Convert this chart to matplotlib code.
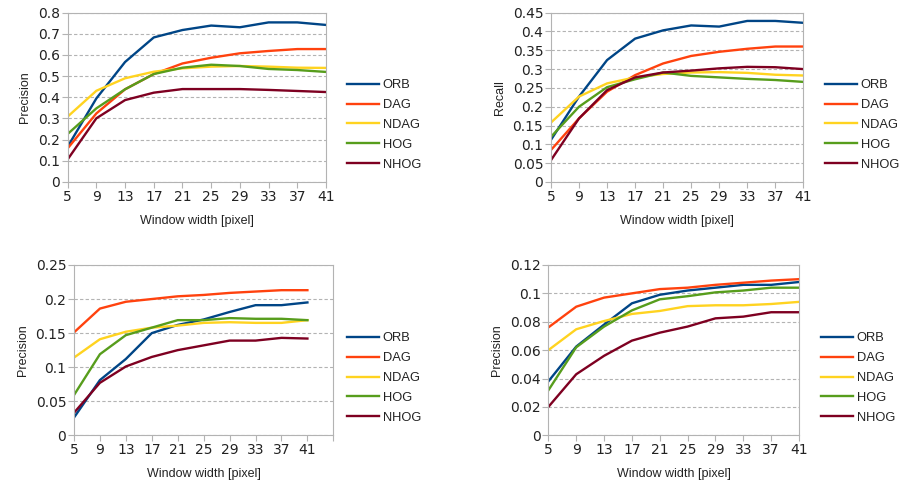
import matplotlib
matplotlib.use("Agg")
import matplotlib.pyplot as plt

windows = [5, 9, 13, 17, 21, 25, 29, 33, 37, 41]
methods = ["ORB", "DAG", "NDAG", "HOG", "NHOG"]
colors = ["#004586", "#ff420e", "#ffd320", "#579d1c", "#7e0021"]

p1_orb = [0.167, 0.395, 0.567, 0.683, 0.718, 0.739, 0.731, 0.754, 0.754, 0.742]
p1_dag = [0.159, 0.324, 0.438, 0.510, 0.560, 0.587, 0.608, 0.619, 0.628, 0.628]
p1_ndag = [0.309, 0.431, 0.490, 0.521, 0.537, 0.545, 0.548, 0.545, 0.540, 0.539]
p1_hog = [0.227, 0.348, 0.438, 0.510, 0.540, 0.554, 0.548, 0.534, 0.529, 0.520]
p1_nhog = [0.107, 0.301, 0.387, 0.422, 0.439, 0.439, 0.439, 0.435, 0.430, 0.425]

r2_orb = [0.112, 0.227, 0.324, 0.381, 0.403, 0.416, 0.413, 0.428, 0.428, 0.423]
r2_dag = [0.085, 0.169, 0.240, 0.284, 0.315, 0.335, 0.346, 0.354, 0.360, 0.360]
r2_ndag = [0.158, 0.227, 0.262, 0.278, 0.287, 0.291, 0.292, 0.290, 0.285, 0.283]
r2_hog = [0.120, 0.200, 0.252, 0.273, 0.291, 0.282, 0.278, 0.274, 0.271, 0.266]
r2_nhog = [0.058, 0.169, 0.244, 0.278, 0.291, 0.296, 0.302, 0.306, 0.305, 0.300]

p3_orb = [0.026, 0.081, 0.112, 0.150, 0.162, 0.170, 0.181, 0.191, 0.191, 0.195]
p3_dag = [0.151, 0.186, 0.196, 0.200, 0.204, 0.206, 0.209, 0.211, 0.213, 0.213]
p3_ndag = [0.114, 0.141, 0.152, 0.158, 0.161, 0.165, 0.166, 0.165, 0.165, 0.169]
p3_hog = [0.059, 0.119, 0.147, 0.158, 0.169, 0.169, 0.172, 0.171, 0.171, 0.169]
p3_nhog = [0.033, 0.077, 0.101, 0.115, 0.125, 0.132, 0.139, 0.139, 0.143, 0.142]

p4_orb = [0.038, 0.0625, 0.078, 0.093, 0.099, 0.102, 0.104, 0.106, 0.106, 0.108]
p4_dag = [0.076, 0.0906, 0.097, 0.100, 0.103, 0.104, 0.106, 0.1075, 0.109, 0.110]
p4_ndag = [0.060, 0.0747, 0.0805, 0.0855, 0.0876, 0.091, 0.0916, 0.0916, 0.0925, 0.094]
p4_hog = [0.0317, 0.062, 0.0766, 0.088, 0.0958, 0.098, 0.1007, 0.102, 0.104, 0.104]
p4_nhog = [0.020, 0.043, 0.056, 0.0667, 0.0723, 0.0766, 0.0824, 0.0836, 0.0867, 0.0867]

panels = [
    dict(series=[p1_orb, p1_dag, p1_ndag, p1_hog, p1_nhog], ylabel="Precision",
         ymax=0.8, ystep=0.1, rect=[0.0752, 0.6263, 0.2870, 0.3477],
         xext=0, leg=(347, 125)),
    dict(series=[r2_orb, r2_dag, r2_ndag, r2_hog, r2_nhog], ylabel="Recall",
         ymax=0.45, ystep=0.05, rect=[0.6122, 0.6263, 0.2804, 0.3477],
         xext=0, leg=(825, 125)),
    dict(series=[p3_orb, p3_dag, p3_ndag, p3_hog, p3_nhog], ylabel="Precision",
         ymax=0.25, ystep=0.05, rect=[0.0822, 0.1062, 0.2882, 0.3497],
         xext=1, leg=(347, 378)),
    dict(series=[p4_orb, p4_dag, p4_ndag, p4_hog, p4_nhog], ylabel="Precision",
         ymax=0.12, ystep=0.02, rect=[0.6093, 0.1062, 0.2785, 0.3497],
         xext=0, leg=(821, 378)),
]

W, H = 900, 487
fig = plt.figure(figsize=(W / 100, H / 100), dpi=100)
grey = "#b3b3b3"
txt = "#222222"

for pan in panels:
    ax = fig.add_axes(pan["rect"])
    idx = list(range(len(windows)))
    for s, name, c in zip(pan["series"], methods, colors):
        ax.plot(idx, s, color=c, lw=1.7, label=name, solid_joinstyle="round")
    ax.set_xlim(0, len(windows) - 1 + pan["xext"])
    ticks_x = list(range(len(windows) + pan["xext"]))
    ax.set_xticks(ticks_x)
    ax.set_xticklabels([str(w) for w in windows] + [""] * pan["xext"])
    ax.set_ylim(0, pan["ymax"])
    n = int(round(pan["ymax"] / pan["ystep"]))
    yt = [round(i * pan["ystep"], 4) for i in range(n + 1)]
    ax.set_yticks(yt)
    ax.set_yticklabels(["{:g}".format(v) for v in yt])
    ax.yaxis.grid(True, color=grey, linestyle=(0, (3, 2)), lw=0.8)
    ax.set_axisbelow(True)
    for sp in ax.spines.values():
        sp.set_color(grey)
        sp.set_linewidth(0.8)
    ax.tick_params(axis="both", direction="out", length=4.5, width=0.8, color=grey,
                   labelsize=10, labelcolor=txt, pad=1)
    for lab in ax.get_xticklabels() + ax.get_yticklabels():
        lab.set_fontfamily("DejaVu Sans")
    ax.set_xlabel("Window width [pixel]", fontsize=9, color=txt,
                  fontfamily="Liberation Sans", labelpad=8)
    ax.set_ylabel(pan["ylabel"], fontsize=9, color=txt,
                  fontfamily="Liberation Sans", labelpad=5)
    lx, ly = pan["leg"]
    ax.legend(loc="center left", bbox_to_anchor=(lx / W, 1 - ly / H),
              bbox_transform=fig.transFigure, frameon=False,
              prop={"family": "Liberation Sans", "size": 9.3},
              handlelength=2.45, handletextpad=0.3, labelspacing=0.6,
              borderpad=0, borderaxespad=0, labelcolor=txt)

fig.savefig("out.png", dpi=100)
